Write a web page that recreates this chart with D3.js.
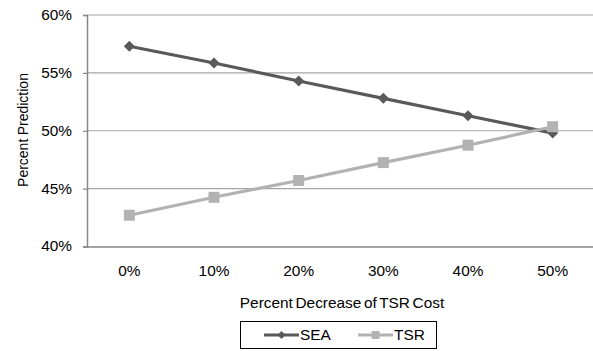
<!DOCTYPE html>
<html><head><meta charset="utf-8">
<script src="https://cdn.jsdelivr.net/npm/d3@7"></script>
<style>body{margin:0;background:#fff}svg{display:block;font-family:"Liberation Sans",Arial,sans-serif}</style>
</head><body><svg id="c" width="593" height="351"></svg>
<script>
const categories = ["0%","10%","20%","30%","40%","50%"];
const seaValues = [57.3, 55.85, 54.3, 52.8, 51.3, 49.8];
const tsrValues = [42.7, 44.25, 45.7, 47.25, 48.75, 50.35];
const yTicks = [40, 45, 50, 55, 60];
const seriesNames = ["SEA","TSR"];

const svg = d3.select("#c");
const L = 87, R = 595, T = 15, B = 246.5;
const x = d3.scaleBand().domain(categories).range([L, R]);
const y = d3.scaleLinear().domain([40, 60]).range([B, T]);
const fs = "14px";
const ff = "Liberation Sans, Arial, sans-serif";
const sx = 1.1;

// gridlines
svg.append("g").selectAll("line").data(yTicks.filter(d=>d>40)).join("line")
  .attr("x1", L).attr("x2", R).attr("y1", d=>y(d)).attr("y2", d=>y(d))
  .attr("stroke", "#a6a6a6").attr("stroke-width", 1.2);

// y axis
const yAxis = d3.axisLeft(y).tickValues(yTicks).tickSize(4).tickPadding(10).tickFormat(d=>d+"%");
const gy = svg.append("g").attr("transform", `translate(${L},0)`).call(yAxis);
gy.select(".domain").attr("stroke","#868686").attr("stroke-width",1.5);
gy.selectAll(".tick line").attr("stroke","#868686").attr("stroke-width",1.2);
gy.selectAll("text").attr("font-size", fs).attr("fill","#000").attr("font-family",ff)
  .attr("x", -15/sx).attr("transform", `scale(${sx},1)`);

// x axis
const xAxis = d3.axisBottom(x).tickSize(0).tickPadding(20);
const gx = svg.append("g").attr("transform", `translate(0,${B})`).call(xAxis);
gx.select(".domain").attr("stroke","#868686").attr("stroke-width",1.5);
gx.selectAll("text").attr("font-size", fs).attr("fill","#000").attr("font-family",ff)
  .attr("transform", `scale(${sx},1)`);

// titles
svg.append("text").attr("transform", `translate(342,308) scale(${sx},1)`).attr("text-anchor","middle")
  .attr("font-size", fs).attr("word-spacing","-1.5").text("Percent Decrease of TSR Cost");
svg.append("text").attr("transform","translate(27.5,130) rotate(-90)").attr("text-anchor","middle")
  .attr("font-size", fs).attr("word-spacing","-0.5").text("Percent Prediction");

const colors = {SEA:"#595959", TSR:"#b2b2b2"};
const line = d3.line().x((d,i)=>x(categories[i])+x.bandwidth()/2).y(d=>y(d));

function diamond(g, cx, cy, s, c){
  g.append("path").attr("d", `M${cx},${cy-s}L${cx+s},${cy}L${cx},${cy+s}L${cx-s},${cy}Z`).attr("fill", c);
}
function square(g, cx, cy, s, c){
  g.append("rect").attr("x", cx-s).attr("y", cy-s).attr("width", 2*s).attr("height", 2*s).attr("fill", c);
}

// SEA
svg.append("path").datum(seaValues).attr("d", line).attr("fill","none").attr("stroke",colors.SEA).attr("stroke-width",3.2);
const gs = svg.append("g");
seaValues.forEach((v,i)=>diamond(gs, x(categories[i])+x.bandwidth()/2, y(v), 5.5, colors.SEA));
// TSR
svg.append("path").datum(tsrValues).attr("d", line).attr("fill","none").attr("stroke",colors.TSR).attr("stroke-width",3.2);
const gt = svg.append("g");
tsrValues.forEach((v,i)=>square(gt, x(categories[i])+x.bandwidth()/2, y(v), 5.5, colors.TSR));

// legend
const lg = svg.append("g");
lg.append("rect").attr("x",240.5).attr("y",321.5).attr("width",196).attr("height",27).attr("fill","#fff").attr("stroke","#000").attr("stroke-width",1);
const items = [{name:seriesNames[0], x1:264, x2:299, tx:300, shape:diamond},{name:seriesNames[1], x1:358, x2:393, tx:394, shape:square}];
items.forEach(it=>{
  const c = colors[it.name], cy = 335;
  lg.append("line").attr("x1",it.x1).attr("x2",it.x2).attr("y1",cy).attr("y2",cy).attr("stroke",c).attr("stroke-width",3);
  it.shape(lg, (it.x1+it.x2)/2, cy, 4, c);
  lg.append("text").attr("transform",`translate(${it.tx},${cy+5}) scale(${sx},1)`).attr("font-size",fs).text(it.name);
});
</script></body></html>
